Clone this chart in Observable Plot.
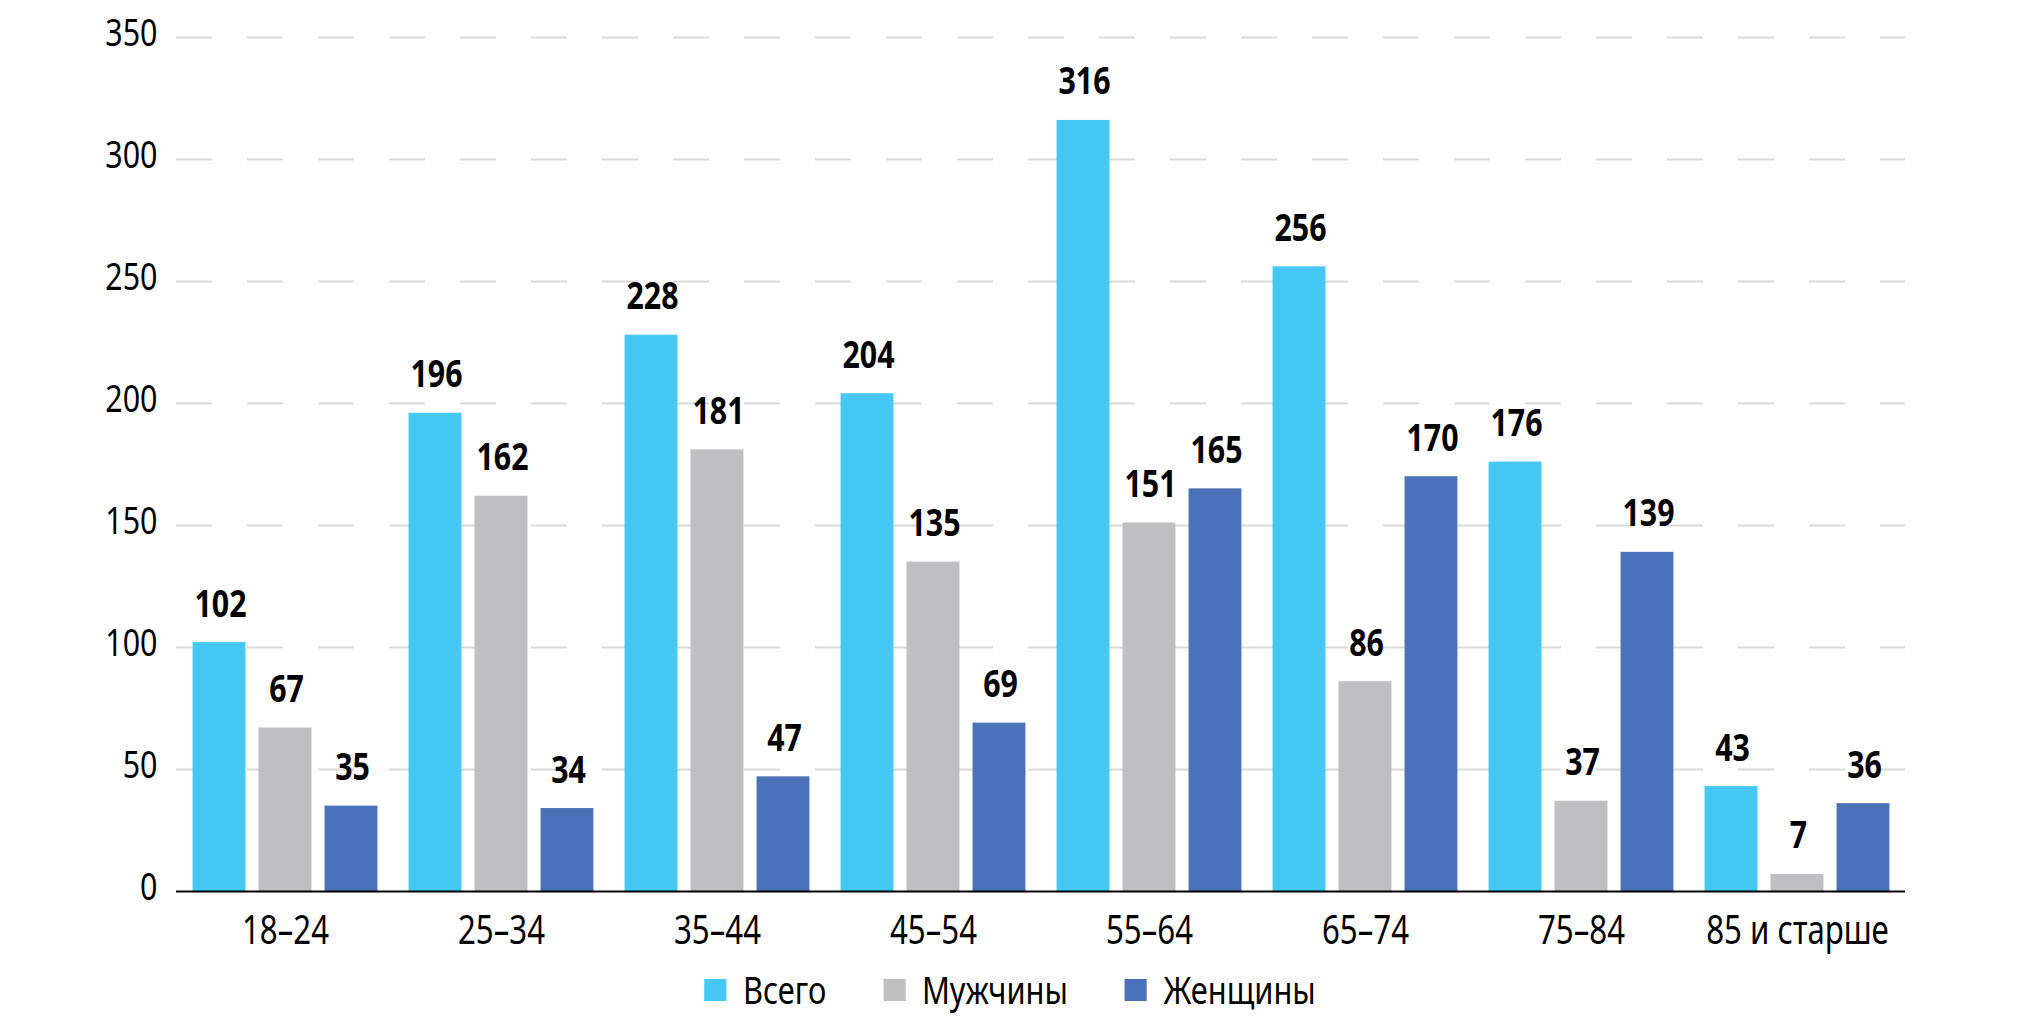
<!DOCTYPE html>
<html>
<head>
<meta charset="utf-8">
<script src="https://cdn.jsdelivr.net/npm/d3@7"></script>
<script src="https://cdn.jsdelivr.net/npm/@observablehq/plot@0.6"></script>
<style>
  html, body { margin: 0; padding: 0; background: #fff; }
  #chart svg { display: block; }
  .legend { display: flex; justify-content: center; align-items: center; margin-top: 3px; height: 50px;
    font-family: 'Noto Sans', sans-serif; font-size: 39px; color: #000;
    transform: scaleX(0.79); transform-origin: 1010px center; width: 2020px; }
  .legend .item { display: flex; align-items: center; margin: 0 36px; }
  .legend .sw { width: 28px; height: 22px; margin-right: 21px; margin-top: 4px; }
</style>
</head>
<body>
<div id="chart"></div>
<script>
const groups = ["18–24", "25–34", "35–44", "45–54", "55–64", "65–74", "75–84", "85 и старше"];
const seriesNames = ["Всего", "Мужчины", "Женщины"];
const total = [102, 196, 228, 204, 316, 256, 176, 43];
const men = [67, 162, 181, 135, 151, 86, 37, 7];
const women = [35, 34, 47, 69, 165, 170, 139, 36];
const yTicks = [0, 50, 100, 150, 200, 250, 300, 350];
const colors = ["#45C8F5", "#BEBFC1", "#4A72B8"];

const seriesValues = [total, men, women];
const data = [];
seriesValues.forEach((vals, s) => vals.forEach((v, i) => data.push({group: groups[i], series: seriesNames[s], si: s, value: v})));

const W = 2020, H = 960, ML = 176, MR = 115, MT = 37, MB = 69;
const bw = (W - ML - MR) / groups.length;
const barW = 53, step = 66;
const off0 = (bw - (2 * step + barW)) / 2;
const font = "'Noto Sans', sans-serif";

const marks = [
  Plot.ruleY(yTicks.filter(d => d > 0), {stroke: "#d9d9d9", strokeWidth: 2, strokeDasharray: "36,35"})
];
seriesNames.forEach((name, s) => {
  const sub = data.filter(d => d.si === s);
  marks.push(Plot.barY(sub, {
    x: "group", y: "value", fill: colors[s],
    insetLeft: off0 + step * s, insetRight: bw - off0 - step * s - barW
  }));
});
marks.push(Plot.ruleY([0], {stroke: "#000", strokeWidth: 2}));
seriesNames.forEach((name, s) => {
  const sub = data.filter(d => d.si === s);
  marks.push(Plot.text(sub, {
    x: "group", y: "value", text: d => String(d.value),
    dx: (s - 1) * step + 1, dy: -26, lineAnchor: "bottom",
    fontSize: 37, fontWeight: "bold", fill: "#000"
  }));
});
marks.push(Plot.axisX({tickSize: 0, tickPadding: 24, label: null, fontSize: 40}));
marks.push(Plot.axisY({ticks: yTicks, tickSize: 0, tickPadding: 19, dy: -4, label: null, fontSize: 39}));

const chart = Plot.plot({
  width: W, height: H,
  marginLeft: ML, marginRight: MR, marginTop: MT, marginBottom: MB,
  style: {fontFamily: font, fontSize: "39px", color: "#000", background: "#fff"},
  x: {domain: groups, padding: 0, axis: null},
  y: {domain: [0, 350], axis: null},
  marks
});

// condense the glyphs horizontally around each text's own anchor point
d3.select(chart).selectAll("text").each(function () {
  const el = this;
  const bold = el.closest('[font-weight="bold"]') !== null;
  const s = bold ? 0.82 : 0.78;
  let x = parseFloat(el.getAttribute("x"));
  if (!isFinite(x)) x = 0;
  const t = el.getAttribute("transform") || "";
  el.setAttribute("transform", `${t} translate(${x},0) scale(${s},1) translate(${-x},0)`.trim());
});
document.getElementById("chart").appendChild(chart);

const legend = document.createElement("div");
legend.className = "legend";
seriesNames.forEach((name, s) => {
  const item = document.createElement("div");
  item.className = "item";
  const sw = document.createElement("span");
  sw.className = "sw";
  sw.style.background = colors[s];
  const label = document.createElement("span");
  label.textContent = name;
  item.appendChild(sw);
  item.appendChild(label);
  legend.appendChild(item);
});
document.body.appendChild(legend);
</script>
</body>
</html>
